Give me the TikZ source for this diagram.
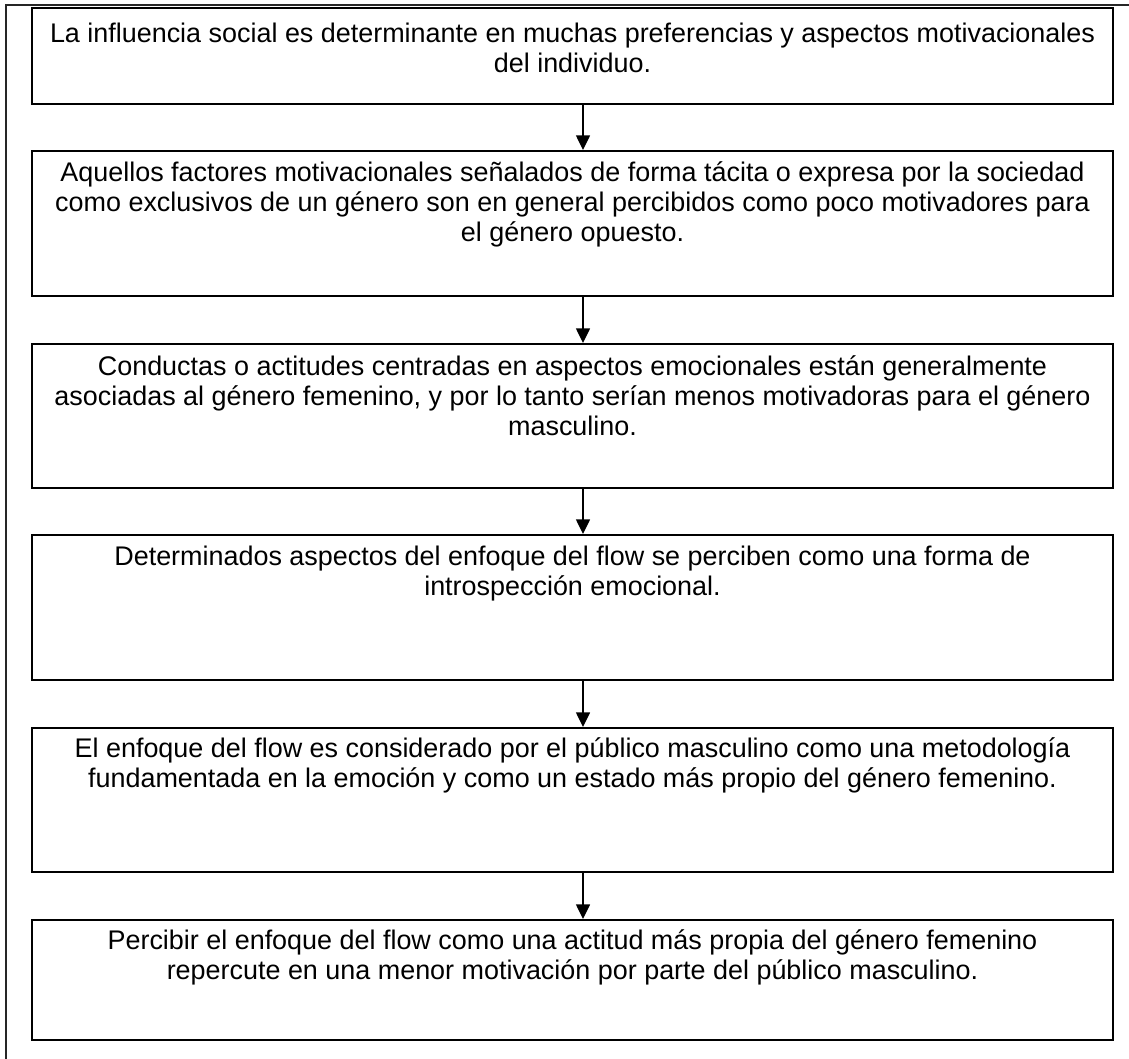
\documentclass[tikz,border=0pt]{standalone}
\usepackage{fontspec}
\setmainfont{Liberation Sans}
\usetikzlibrary{arrows.meta}
\tikzset{
  stepbox/.style={draw=black, line width=1.5pt, minimum width=810.75pt, inner sep=0pt, anchor=north west},
  steptext/.style={anchor=north, align=center, inner sep=0pt, font=\fontsize{20.2pt}{22.5pt}\selectfont},
  flowarrow/.style={draw=black, line width=1.1pt, -{Triangle[width=10.5pt,length=11pt]}},
  frameline/.style={draw=black!85, line width=1.1pt}
}
\begin{document}
\begin{tikzpicture}[x=0.75pt, y=-0.75pt]
\useasboundingbox (0,0) rectangle (1129,1059);
% partial outer frame
\coordinate (fl) at (6,1059);
\coordinate (fc) at (6,5);
\coordinate (fr) at (1129,5);
\draw[frameline] (fl) -- (fc) -- (fr);
% boxes
\node[stepbox, minimum height=72pt]     (b1) at (31,7)   {};
\node[stepbox, minimum height=108.75pt] (b2) at (31,150) {};
\node[stepbox, minimum height=108pt]    (b3) at (31,343) {};
\node[stepbox, minimum height=108.75pt] (b4) at (31,534) {};
\node[stepbox, minimum height=108pt]    (b5) at (31,727) {};
\node[stepbox, minimum height=90pt]     (b6) at (31,919) {};
% texts
\node[steptext] (t1) at ([yshift=-10.5pt]b1.north) {\strut La influencia social es determinante en muchas preferencias y aspectos motivacionales\\del individuo.};
\node[steptext] (t2) at ([yshift=-7.75pt]b2.north) {\strut Aquellos factores motivacionales señalados de forma tácita o expresa por la sociedad\\como exclusivos de un género son en general percibidos como poco motivadores para\\el género opuesto.};
\node[steptext] (t3) at ([yshift=-8.25pt]b3.north) {\strut Conductas o actitudes centradas en aspectos emocionales están generalmente\\asociadas al género femenino, y por lo tanto serían menos motivadoras para el género\\masculino.};
\node[steptext] (t4) at ([yshift=-7.75pt]b4.north) {\strut Determinados aspectos del enfoque del flow se perciben como una forma de\\introspección emocional.};
\node[steptext] (t5) at ([yshift=-7.25pt]b5.north) {\strut El enfoque del flow es considerado por el público masculino como una metodología\\fundamentada en la emoción y como un estado más propio del género femenino.};
\node[steptext] (t6) at ([yshift=-7.25pt]b6.north) {\strut Percibir el enfoque del flow como una actitud más propia del género femenino\\repercute en una menor motivación por parte del público masculino.};
% arrows
\coordinate (ax) at (583,0);
\draw[flowarrow] (b1.south -| ax) -- (b2.north -| ax);
\draw[flowarrow] (b2.south -| ax) -- (b3.north -| ax);
\draw[flowarrow] (b3.south -| ax) -- (b4.north -| ax);
\draw[flowarrow] (b4.south -| ax) -- (b5.north -| ax);
\draw[flowarrow] (b5.south -| ax) -- (b6.north -| ax);
\end{tikzpicture}
\end{document}
